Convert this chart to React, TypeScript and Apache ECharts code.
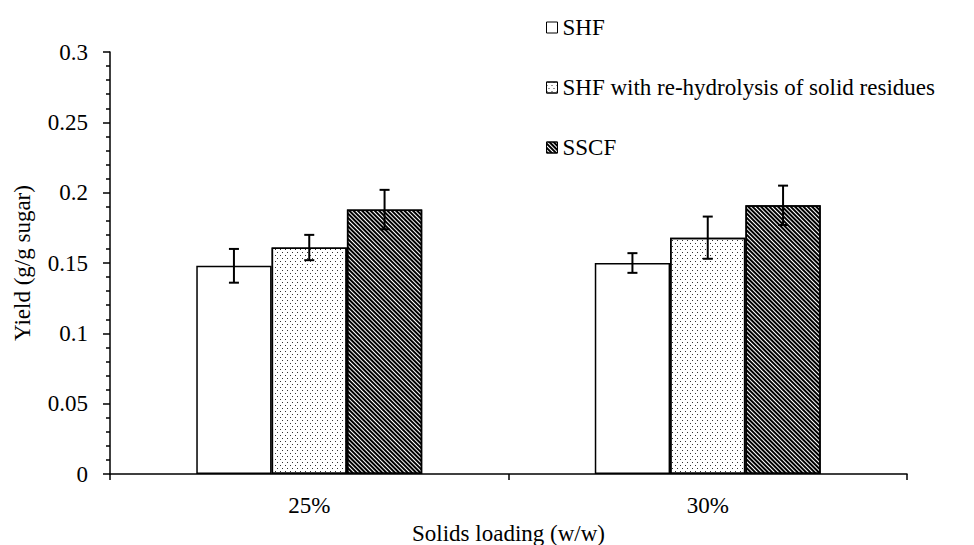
import React, { useEffect, useRef } from "react";
import * as echarts from "echarts";

const categories = ["25%", "30%"];
const seriesNames = ["SHF", "SHF with re-hydrolysis of solid residues", "SSCF"];
const shfValues = [0.148, 0.150];
const shfReValues = [0.161, 0.168];
const sscfValues = [0.188, 0.191];
const shfErr = [0.012, 0.007];
const shfReErr = [0.009, 0.015];
const sscfErr = [0.014, 0.014];
const yTicks = [0, 0.05, 0.1, 0.15, 0.2, 0.25, 0.3];

const FONT = "'Liberation Serif', 'Times New Roman', serif";
const FS = 23;
const BAR_FRAC = 0.189;

const dotDecal = {
  symbol: "rect",
  symbolSize: 1,
  color: "#333",
  dashArrayX: [[1, 4], [0, 2, 1, 2]],
  dashArrayY: [1, 2],
  rotation: 0,
};
const hatchDecal = {
  symbol: "rect",
  symbolSize: 1,
  color: "#000",
  dashArrayX: [1, 0],
  dashArrayY: [2, 1],
  rotation: Math.PI / 4,
};

export default function App() {
  const ref = useRef<HTMLDivElement>(null);
  useEffect(() => {
    if (!ref.current) return;
    const chart = echarts.init(ref.current, undefined, { renderer: "svg" });
    const values = [shfValues, shfReValues, sscfValues];
    const errs = [shfErr, shfReErr, sscfErr];
    const decals: any[] = [undefined, dotDecal, hatchDecal];
    const errData: number[][] = [];
    values.forEach((vals, s) => vals.forEach((v, i) => errData.push([i, v, errs[s][i], s])));

    const barSeries = seriesNames.map((name, s) => ({
      name,
      type: "bar",
      data: values[s],
      barWidth: (BAR_FRAC * 100).toFixed(1) + "%",
      barGap: "0%",
      itemStyle: {
        color: "#fff",
        borderColor: "#000",
        borderWidth: 1.5,
        decal: decals[s],
      },
    }));

    chart.setOption({
      animation: false,
      backgroundColor: "#fff",
      textStyle: { fontFamily: FONT },
      grid: { left: 110, right: 67, top: 52, bottom: 71, containLabel: false, outerBoundsMode: "none" },
      legend: {
        orient: "vertical",
        left: 541,
        top: 11,
        icon: "rect",
        itemWidth: 11,
        itemHeight: 11,
        itemGap: 37,
        data: seriesNames,
        itemStyle: { borderColor: "#000", borderWidth: 1 },
        textStyle: { fontFamily: FONT, fontSize: FS, color: "#000" },
      },
      xAxis: {
        type: "category",
        data: categories,
        axisLine: { lineStyle: { color: "#000", width: 1.5 } },
        axisTick: { show: true, length: 6, lineStyle: { color: "#000", width: 1.5 } },
        axisLabel: { fontFamily: FONT, fontSize: FS, color: "#000", margin: 20 },
        name: "Solids loading (w/w)",
        nameLocation: "middle",
        nameGap: 42,
        nameTextStyle: { fontFamily: FONT, fontSize: FS, color: "#000" },
      },
      yAxis: {
        type: "value",
        min: yTicks[0],
        max: yTicks[yTicks.length - 1],
        interval: 0.05,
        splitLine: { show: false },
        axisLine: { show: true, lineStyle: { color: "#000", width: 1.5 } },
        axisTick: { show: true, length: 7, lineStyle: { color: "#000", width: 1.5 } },
        minorTick: { show: true, splitNumber: 5, length: 4, lineStyle: { color: "#000", width: 1.5 } },
        axisLabel: { fontFamily: FONT, fontSize: FS, color: "#000", margin: 22 },
        name: "Yield (g/g sugar)",
        nameLocation: "middle",
        nameGap: 76,
        nameTextStyle: { fontFamily: FONT, fontSize: FS, color: "#000" },
      },
      series: [
        ...barSeries,
        {
          type: "custom",
          name: "err",
          z: 10,
          data: errData,
          renderItem: (params: any, api: any) => {
            const cat = api.value(0);
            const v = api.value(1);
            const e = api.value(2);
            const s = api.value(3);
            const band = api.size([1, 0])[0];
            const off = (s - 1) * band * BAR_FRAC;
            const top = api.coord([cat, v + e]);
            const bot = api.coord([cat, v - e]);
            const x = top[0] + off;
            const cap = 5;
            const style = { stroke: "#000", lineWidth: 2 };
            return {
              type: "group",
              children: [
                { type: "line", shape: { x1: x, y1: top[1], x2: x, y2: bot[1] }, style },
                { type: "line", shape: { x1: x - cap, y1: top[1], x2: x + cap, y2: top[1] }, style },
                { type: "line", shape: { x1: x - cap, y1: bot[1], x2: x + cap, y2: bot[1] }, style },
              ],
            };
          },
        },
      ],
    });
    return () => chart.dispose();
  }, []);
  return <div ref={ref} style={{ width: 974, height: 545, position: "absolute", left: 0, top: 0 }} />;
}
